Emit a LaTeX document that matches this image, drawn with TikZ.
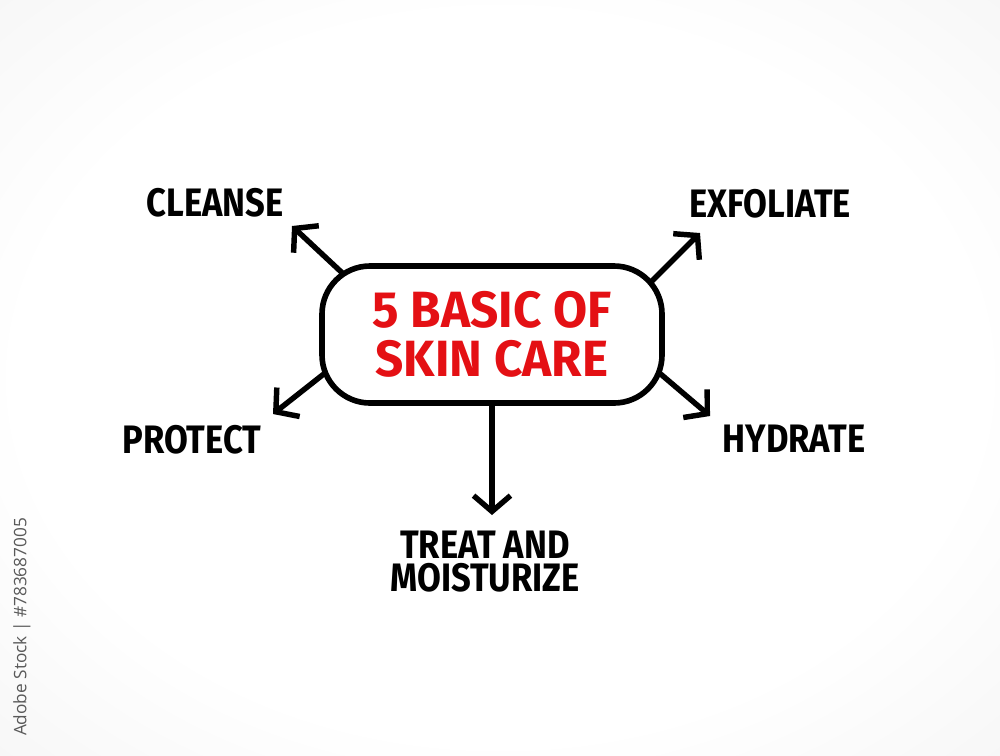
\documentclass[tikz,border=0pt]{standalone}
\usepackage{fontspec}
\newfontfamily\handfont[FakeStretch=0.87]{Fira Sans}
\newfontfamily\titlefont[FakeStretch=0.97]{Fira Sans}
\newfontfamily\markfont{Open Sans}
\usetikzlibrary{arrows.meta}
\definecolor{titlered}{RGB}{228,16,20}
\pgfdeclarelayer{backdrop}
\pgfdeclarelayer{behind}
\pgfsetlayers{backdrop,behind,main}
\pgfdeclareradialshading{paper}{\pgfpoint{0bp}{0bp}}{color(0bp)=(white);
	color(24bp)=(white); color(50bp)=(black!7); color(75bp)=(black!14)}
\begin{document}
\begin{tikzpicture}[
		topic/.style = {font=\handfont\bfseries\fontsize{11.3}{9.2}\selectfont,
			inner sep=2pt, align=center},
		arrowline/.style = {line width=1.55pt, line cap=round, shorten <=-14pt,
			-{Straight Barb[length=4.5pt, width=10.5pt, line width=1.55pt]}}
	]
		\begin{pgfonlayer}{backdrop}
			\shade[shading=paper] (0,0) rectangle (10,7.55);
		\end{pgfonlayer}
		\useasboundingbox (0,0) rectangle (10,7.55);
		
		\node[draw, rectangle, rounded corners=0.48cm, line width=1.6pt,
			minimum width=3.4cm, minimum height=1.37cm, fill=white,
			text=titlered, align=center,
			font=\titlefont\bfseries\fontsize{14.5}{13.9}\selectfont]
			(core) at (4.92,4.205) {5 BASIC OF\\SKIN CARE};
		
		\node[topic] (cleanse) at (2.15,5.52) {CLEANSE};
		\node[topic] (exfoliate) at (7.70,5.51) {EXFOLIATE};
		\node[topic] (protect) at (1.92,3.15) {PROTECT};
		\node[topic] (hydrate) at (7.94,3.16) {HYDRATE};
		\node[topic] (treat) at (4.85,1.935) {TREAT AND\\MOISTURIZE};
		
		\coordinate (cleansetip) at (2.92,5.29);
		\coordinate (exfoliatetip) at (7.00,5.22);
		\coordinate (protecttip) at (2.73,3.41);
		\coordinate (hydratetip) at (7.10,3.39);
		\coordinate (treattip) at (4.92,2.40);
		
		\begin{pgfonlayer}{behind}
			\draw[arrowline] (core.156) -- (cleansetip);
			\draw[arrowline] (core.21) -- (exfoliatetip);
			\draw[arrowline] (core.194) -- (protecttip);
			\draw[arrowline] (core.346) -- (hydratetip);
			\draw[arrowline] (core.270) -- (treattip);
		\end{pgfonlayer}
		
		\node[rotate=90, text=black!65, font=\markfont\fontsize{4.9}{5}\selectfont]
			(stockmark) at (0.22,1.28) {Adobe Stock | \#783687005};
	\end{tikzpicture}
\end{document}
